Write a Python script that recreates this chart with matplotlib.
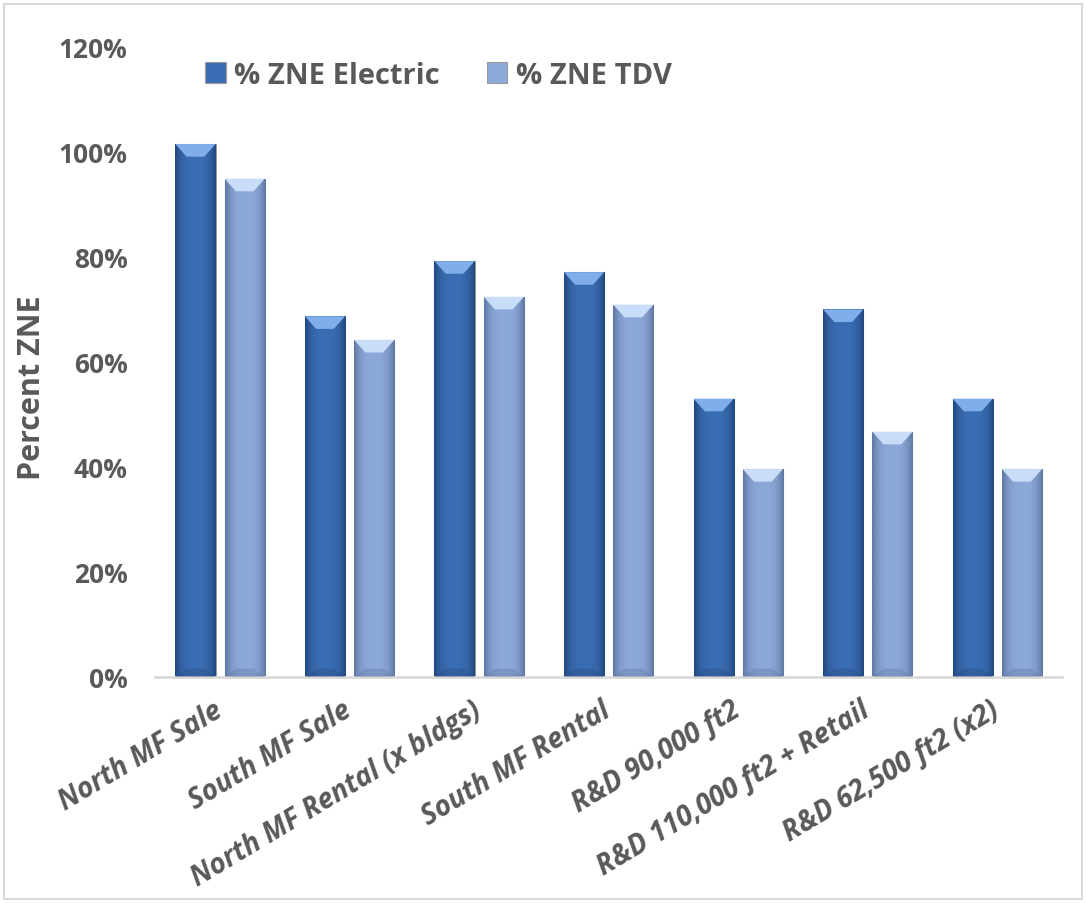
import numpy as np
import matplotlib
matplotlib.use("Agg")
import matplotlib.pyplot as plt
from matplotlib.patches import Patch, Polygon, Rectangle
from matplotlib.colors import to_rgb

categories = ["North MF Sale", "South MF Sale", "North MF Rental (x bldgs)",
              "South MF Rental", "R&D 90,000 ft2", "R&D 110,000 ft2 + Retail",
              "R&D 62,500 ft2 (x2)"]
zne_electric = [101.5, 68.7, 79.2, 77.1, 53.0, 70.0, 53.0]
zne_tdv = [94.9, 64.2, 72.4, 70.9, 39.6, 46.7, 39.6]
series_names = ["% ZNE Electric", "% ZNE TDV"]
yticks = [0, 20, 40, 60, 80, 100, 120]

plt.rcParams['font.family'] = ['Open Sans', 'DejaVu Sans']
text_col = '#595959'

fig = plt.figure(figsize=(10.86, 9.04), dpi=100)
ax = fig.add_axes([0.143, 0.25, 0.835, 0.697])

# light frame round the whole chart
fig.patches.append(Rectangle((0.004, 0.004), 0.992, 0.991, transform=fig.transFigure,
                             fill=False, edgecolor='#D9D9D9', lw=1.5))

x = np.arange(len(categories))
w = 0.31
styles = [
    # base, edge-dark, top bevel light
    ('#3A6DB3', '#23487E', '#7FAEEA'),
    ('#8DA9D8', '#5E77A3', '#C9DDF8'),
]


def shade_bar(bar, base, dark, light):
    x0, w0, h0 = bar.get_x(), bar.get_width(), bar.get_height()
    # horizontal gradient: darker at the sides
    t = np.linspace(-1, 1, 60)
    k = np.clip(np.abs(t) ** 3, 0, 1)
    b, d = np.array(to_rgb(base)), np.array(to_rgb(dark))
    row = b[None, :] * (1 - k[:, None]) + d[None, :] * k[:, None]
    img = np.repeat(row[None, :, :], 2, axis=0)
    im = ax.imshow(img, extent=[x0, x0 + w0, 0, h0], aspect='auto',
                   zorder=2, interpolation='bilinear')
    im.set_clip_path(bar)
    # top bevel
    bh = 2.4
    inset = w0 * 0.28
    ax.add_patch(Polygon([[x0, h0], [x0 + w0, h0], [x0 + w0 - inset, h0 - bh],
                          [x0 + inset, h0 - bh]], closed=True,
                         facecolor=light, edgecolor='none', zorder=3))
    # bottom shading
    ax.add_patch(Polygon([[x0, 0], [x0 + w0, 0], [x0 + w0 - inset, 1.6],
                          [x0 + inset, 1.6]], closed=True,
                         facecolor=dark, alpha=0.35, edgecolor='none', zorder=3))


for vals, off, (base, dark, light) in zip([zne_electric, zne_tdv], [-0.19, 0.19], styles):
    bars = ax.bar(x + off, vals, w, color=base, edgecolor='#9A9A9A', lw=0.8, zorder=1)
    for bar in bars:
        shade_bar(bar, base, dark, light)

ax.set_xlim(-0.5, len(categories) - 0.5)
ax.set_ylim(0, 120)
ax.set_yticks(yticks)
ax.set_yticklabels([f"{v}%" for v in yticks], fontsize=19, fontweight='bold', color=text_col)
ax.set_xticks(x)
ax.set_xticklabels(categories, rotation=31, ha='right', va='center', rotation_mode='anchor',
                   fontsize=20, fontweight='bold', fontstyle='italic', color=text_col)
ax.tick_params(axis='y', length=0, pad=20)
ax.tick_params(axis='x', length=0, pad=22)
for s in ['top', 'right', 'left']:
    ax.spines[s].set_visible(False)
ax.spines['bottom'].set_color('#D9D9D9')
ax.spines['bottom'].set_linewidth(2)

ax.set_ylabel("Percent ZNE", fontsize=22, fontweight='bold', color=text_col)
ax.yaxis.set_label_coords(-0.119, 0.46)

handles = [Patch(facecolor=s[0], edgecolor='#9A9A9A', lw=0.8) for s in styles]
ax.legend(handles, series_names, ncol=2, frameon=False, loc='center left',
          bbox_to_anchor=(0.026, 0.955), labelcolor=text_col,
          prop={'weight': 'bold', 'size': 21}, handlelength=0.7, handleheight=0.7,
          handletextpad=0.3, columnspacing=1.6)

fig.savefig("out.png", dpi=100)
